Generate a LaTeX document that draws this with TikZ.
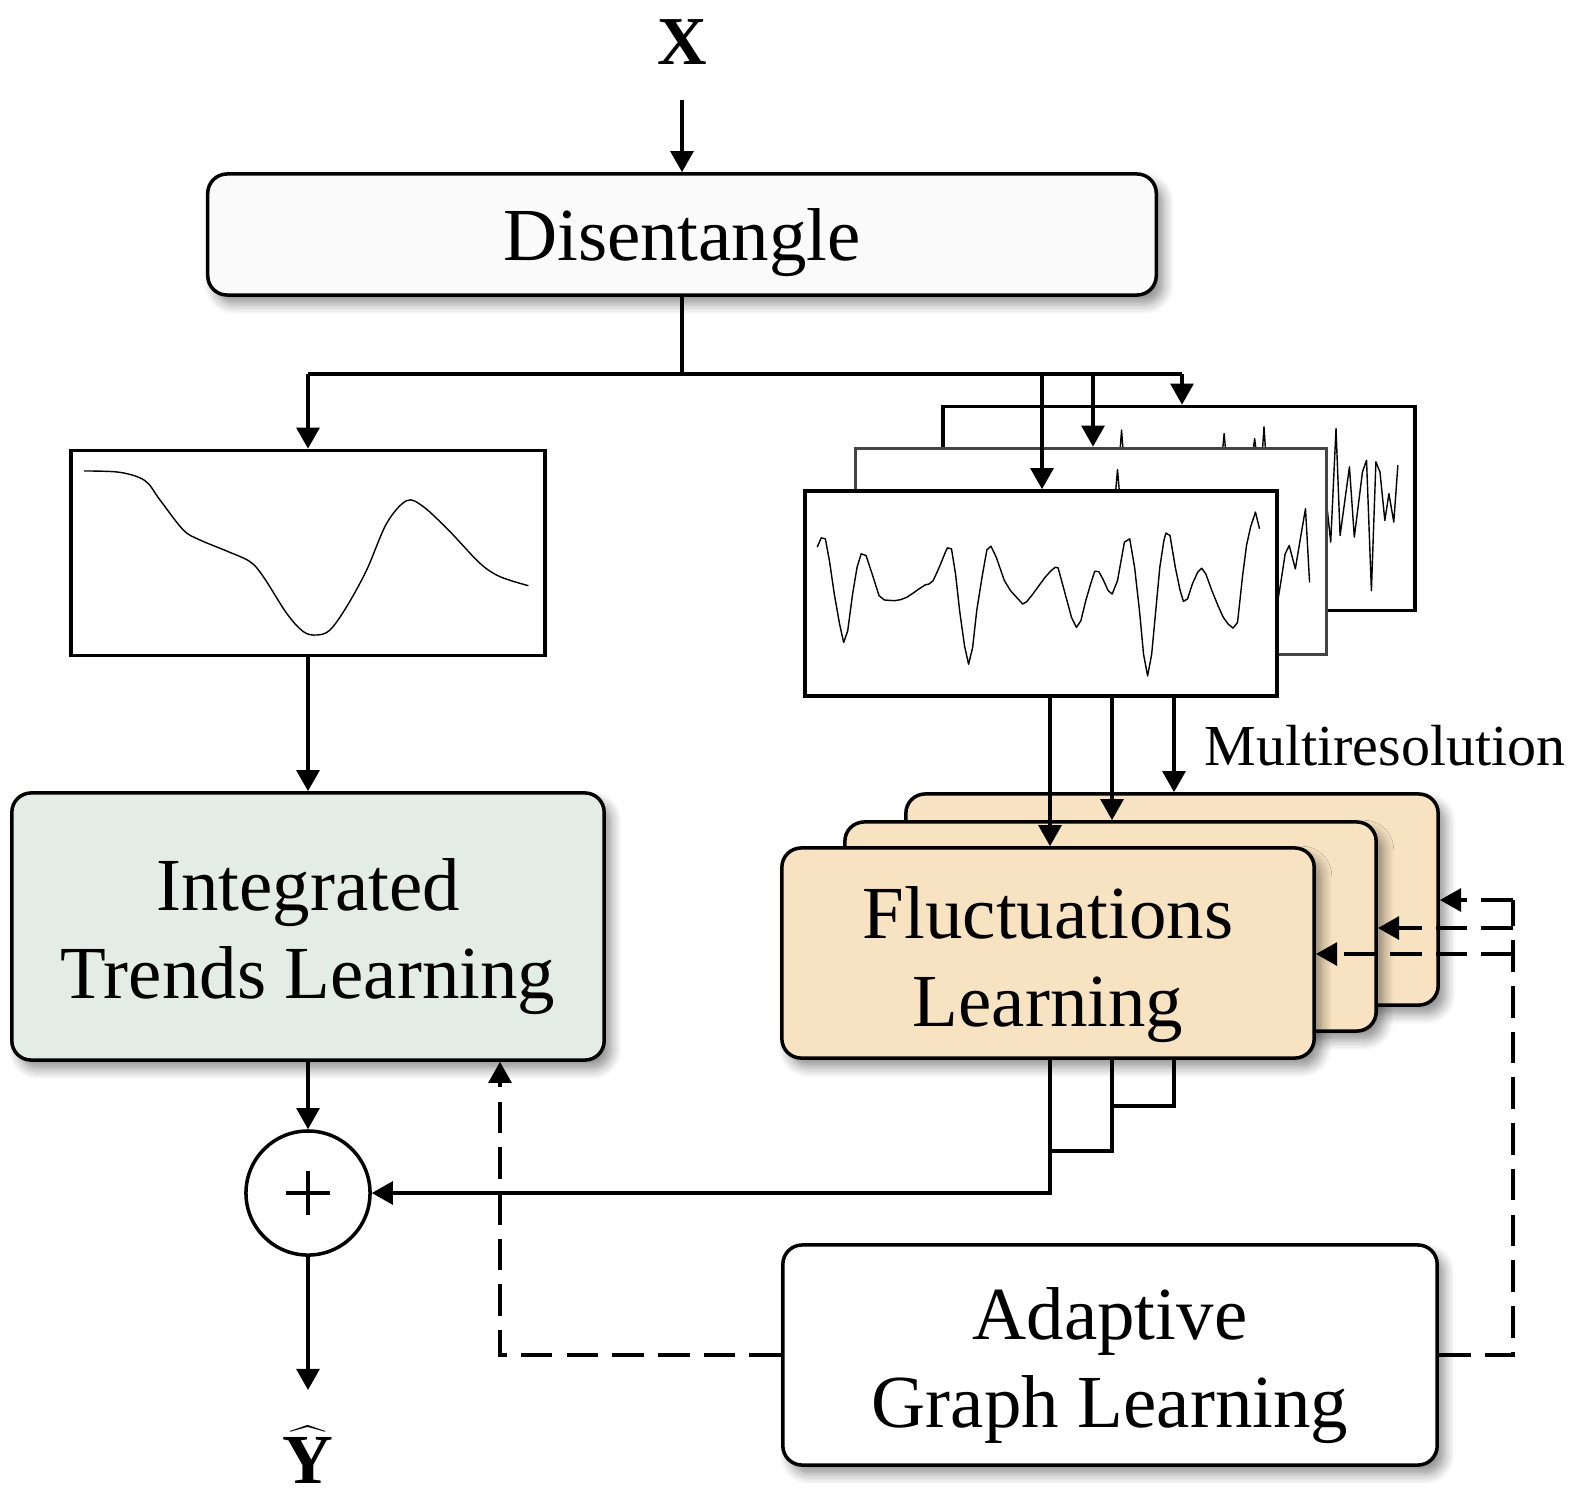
\documentclass[tikz,border=0pt]{standalone}
\usepackage{fontspec}
\setmainfont{Liberation Serif}
\usetikzlibrary{arrows.meta,shadows.blur}
\definecolor{disfill}{HTML}{FAFAFA}
\definecolor{itlfill}{HTML}{E4ECE7}
\definecolor{flfill}{HTML}{F7E2C1}
\definecolor{midgray}{HTML}{444444}
\tikzset{
  lw/.style={line width=1pt},
  arr/.style={lw,-{Triangle[length=6pt,width=6.5pt]}},
  dasharr/.style={lw,dash pattern=on 9pt off 4pt,-{Triangle[length=6pt,width=6.5pt]}},
  dashline/.style={lw,dash pattern=on 9pt off 4pt},
  bigtext/.style={font=\fontsize{21.3}{25}\selectfont,align=center,inner sep=0pt},
  shad/.style={blur shadow={shadow xshift=2pt,shadow yshift=-2.5pt,shadow blur steps=8,shadow blur radius=3pt,shadow opacity=45}},
  rbox/.style={draw,lw,rounded corners=5.5pt,inner sep=0pt,shad},
  sigbox/.style={draw,lw,fill=white,inner sep=0pt},
  sig/.style={line width=0.4pt,line join=round},
}
\begin{document}
\begin{tikzpicture}[x=0.01cm,y=-0.01cm]
\useasboundingbox (0,0) rectangle (1574,1503);

% input
\node[font=\fontsize{19.5}{22}\selectfont\bfseries] (xin) at (682,42) {X};
\coordinate (xs) at (682,100);

% disentangle
\node[rbox,fill=disfill,minimum width=9.48cm,minimum height=1.21cm] (dis) at (682,234.5) {};
\node[bigtext] (distext) at ([yshift=-0.08cm]dis.center) {Disentangle};

% trend signal box
\node[sigbox,minimum width=4.74cm,minimum height=2.05cm] (trend) at (308,553) {};
\begin{scope}[shift={(60,440)},scale=0.33333]
\draw[sig] plot[smooth,tension=0.55] coordinates {(72,93) (180,97) (255,122) (300,180) (370,270) (420,300) (500,333) (570,365) (610,410) (680,520) (730,575) (770,585) (810,570) (860,500) (920,390) (980,250) (1040,182) (1090,200) (1170,275) (1260,370) (1320,410) (1405,437)};
\end{scope}

% fluctuation signal boxes
\node[sigbox,minimum width=4.72cm,minimum height=2.04cm] (sigback) at (1179,508.5) {};
\begin{scope}[shift={(788.7,359.9)},xscale=0.4069,yscale=0.3344]
\draw[sig] (814,275)--(818,210)--(822,275);
\draw[sig] (1066,275)--(1070,220)--(1074,275);
\draw[sig] (1141,275)--(1145,235)--(1149,275);
\draw[sig] (1164,275)--(1168,200)--(1172,275);
\draw[sig] (1315,560)--(1322,430)--(1332,545)--(1345,205)--(1355,525)--(1378,320)--(1390,530)--(1410,335)--(1420,300)--(1432,690)--(1443,305)--(1453,335)--(1465,480)--(1475,400)--(1487,485)--(1497,315);
\end{scope}
\node[sigbox,draw=midgray,minimum width=4.71cm,minimum height=2.06cm] (sigmid) at (1091,551.5) {};
\begin{scope}[shift={(788.7,359.9)},xscale=0.4069,yscale=0.3344]
\draw[sig] (803,400)--(808,328)--(813,400);
\draw[sig] (1195,760)--(1200,735)--(1210,660)--(1220,580)--(1230,555)--(1245,625)--(1258,530)--(1270,445)--(1280,665);
\end{scope}
\node[sigbox,minimum width=4.72cm,minimum height=2.05cm] (sigfront) at (1041,593.5) {};
\begin{scope}[shift={(788.7,359.9)},xscale=0.4069,yscale=0.3344]
\draw[sig] (70,560) -- (80,532) -- (90,535) -- (100,600) -- (112,700) -- (125,790) -- (135,845) -- (145,810) -- (157,700) -- (168,620) -- (178,580) -- (190,585) -- (205,640) -- (222,705) -- (235,718) -- (260,720) -- (275,717) -- (290,710) -- (305,698) -- (320,685) -- (335,673) -- (345,670) -- (355,660) -- (370,620) -- (385,575) -- (390,562) -- (400,565) -- (410,640) -- (420,750) -- (432,855) -- (442,910) -- (452,860) -- (462,750) -- (475,650) -- (487,568) -- (497,557) -- (510,590) -- (530,660) -- (545,690) -- (560,710) -- (575,730) -- (585,723) -- (600,700) -- (615,675) -- (630,650) -- (645,630) -- (655,620) -- (662,622) -- (675,680) -- (695,770) -- (707,800) -- (718,780) -- (730,720) -- (742,670) -- (752,632) -- (762,633) -- (772,655) -- (785,690) -- (795,700) -- (808,660) -- (825,545) -- (838,535) -- (850,620) -- (862,750) -- (872,880) -- (882,945) -- (892,880) -- (902,750) -- (912,620) -- (922,540) -- (927,518) -- (937,525) -- (950,620) -- (962,690) -- (970,722) -- (980,715) -- (992,670) -- (1005,635) -- (1015,623) -- (1025,640) -- (1040,690) -- (1055,735) -- (1068,770) -- (1080,790) -- (1092,802) -- (1103,785) -- (1115,650) -- (1125,555) -- (1135,500) -- (1147,455) -- (1157,505);
\end{scope}

% learning blocks
\node[rbox,fill=itlfill,minimum width=5.92cm,minimum height=2.67cm] (itl) at (308,926.5) {};
\node[bigtext] (itltext) at ([yshift=-0.1cm]itl.center) {Integrated\\Trends Learning};
\node[rbox,fill=flfill,minimum width=5.32cm,minimum height=2.11cm] (flback) at (1172,899.5) {};
\node[rbox,fill=flfill,minimum width=5.31cm,minimum height=2.09cm] (flmid) at (1110.5,926.5) {};
\node[rbox,fill=flfill,minimum width=5.32cm,minimum height=2.10cm] (flfront) at (1048,953) {};
\node[bigtext] (fltext) at ([yshift=-0.12cm]flfront.center) {Fluctuations\\Learning};
\node[rbox,fill=white,minimum width=6.54cm,minimum height=2.2cm] (agl) at (1110,1355) {};
\node[bigtext] (agltext) at ([yshift=-0.11cm]agl.center) {Adaptive\\Graph Learning};

% sum and output
\node[draw,lw,circle,minimum size=1.24cm,inner sep=0pt] (plus) at (308,1193) {};
\draw[line width=1.1pt] ([xshift=-0.22cm]plus.center) -- ([xshift=0.22cm]plus.center);
\draw[line width=1.1pt] ([yshift=-0.22cm]plus.center) -- ([yshift=0.22cm]plus.center);
\coordinate (yend) at (308,1390);
\node[font=\fontsize{20}{22}\selectfont] (yhat) at (308,1455) {$\widehat{\textbf{Y}}$};

\node[anchor=base west,font=\fontsize{16.5}{20}\selectfont] (multi) at (1192,765) {Multiresolution};

% connectors: top
\draw[arr] (xs) -- (dis.north);
\coordinate (j0) at (682,374);
\coordinate (jL) at (308,374);
\coordinate (ja) at (1042,374);
\coordinate (jb) at (1093,374);
\coordinate (jR) at (1182,374);
\draw[lw] (dis.south) -- (j0);
\draw[lw] (jL) -- (jR);
\draw[arr] (jL) -- (trend.north);
\draw[arr] (ja) -- (ja |- sigfront.north);
\draw[arr] (jb) -- (jb |- sigmid.north);
\draw[arr] (jR) -- (jR |- sigback.north);

\draw[arr] (trend.south) -- (itl.north);

% multiresolution arrows
\coordinate (ma) at (1050,696);
\coordinate (mb) at (1112,696);
\coordinate (mc) at (1174,696);
\draw[arr] (ma) -- (ma |- flfront.north);
\draw[arr] (mb) -- (mb |- flmid.north);
\draw[arr] (mc) -- (mc |- flback.north);

% outputs of fluctuation blocks
\coordinate (oa) at (1050,1058);
\coordinate (ob) at (1112,1058);
\coordinate (oc) at (1174,1058);
\coordinate (m1) at (1050,1151);
\coordinate (m2) at (1112,1106);
\draw[arr] (oa) |- (plus.east);
\draw[lw] (ob) |- (m1);
\draw[lw] (oc) |- (m2);

\draw[arr] (itl.south) -- (plus.north);
\draw[arr] (plus.south) -- (yend);

% adaptive graph dashed connectors
\coordinate (dl) at (500,1355);
\draw[dasharr] (agl.west) -- (dl) -- (dl |- itl.south);
\coordinate (dr) at (1513,1355);
\coordinate (d1) at (1513,900);
\coordinate (d2) at (1513,928);
\coordinate (d3) at (1513,954);
\draw[dashline] (agl.east) -- (dr) -- (d1);
\draw[dasharr] (d1) -- (d1 -| flback.east);
\draw[dasharr] (d2) -- (d2 -| flmid.east);
\draw[dasharr] (d3) -- (d3 -| flfront.east);
\end{tikzpicture}
\end{document}
